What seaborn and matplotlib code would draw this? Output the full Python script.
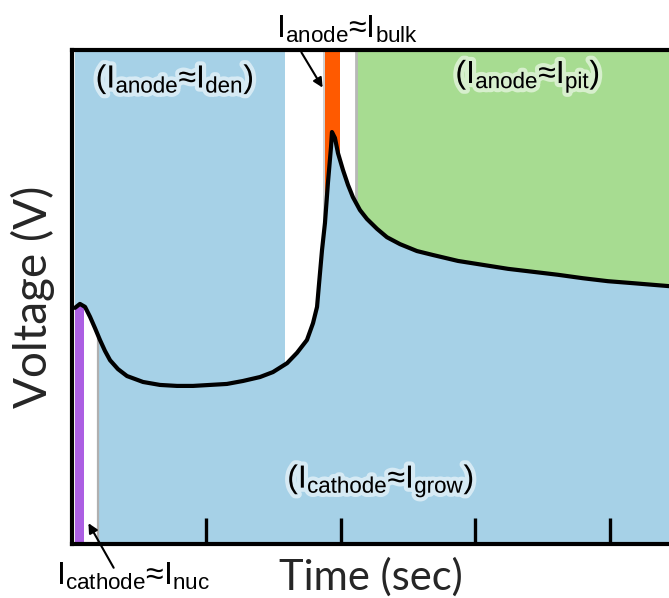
import numpy as np
import matplotlib
matplotlib.use("Agg")
import matplotlib.pyplot as plt
import matplotlib.patheffects as pe
import seaborn as sns

# curve (time in arbitrary sec units, voltage arbitrary)
time = [0.022, 0.059, 0.097, 0.134, 0.171, 0.208, 0.245, 0.283, 0.342, 0.409,
        0.528, 0.654, 0.781, 0.900, 1.026, 1.152, 1.271, 1.398, 1.494, 1.599,
        1.673, 1.747, 1.792, 1.822, 1.836, 1.859, 1.881, 1.903, 1.926, 1.933,
        1.955, 1.978, 2.015, 2.052, 2.089, 2.141, 2.193, 2.268, 2.342, 2.439,
        2.565, 2.684, 2.870, 3.056, 3.242, 3.428, 3.613, 3.799, 3.985, 4.171,
        4.439]
volt = [4.78, 4.86, 4.80, 4.60, 4.37, 4.13, 3.91, 3.72, 3.54, 3.40,
        3.28, 3.22, 3.20, 3.20, 3.22, 3.24, 3.30, 3.38, 3.48, 3.66,
        3.87, 4.13, 4.47, 4.80, 5.24, 5.95, 6.50, 7.31, 8.04, 8.34,
        8.22, 7.91, 7.57, 7.27, 7.02, 6.76, 6.58, 6.38, 6.21, 6.07,
        5.93, 5.85, 5.73, 5.65, 5.57, 5.51, 5.45, 5.38, 5.32, 5.28,
        5.22]

# bands (start, end, colour) above and below the curve
above_bands = [(0.0, 1.584, "#a6d1e7"), (1.584, 1.881, "white"),
               (1.881, 1.993, "#ff5a00"), (1.993, 2.12, "white"),
               (2.12, 4.5, "#a7dc91")]
below_bands = [(0.0, 0.022, "white"), (0.022, 0.09, "#ac5fe3"),
               (0.09, 0.19, "white"), (0.19, 4.5, "#a6d1e7")]
shadow_below = 0.19
shadow_above = 2.115

xticks = [1, 2, 3, 4]

sns.set_theme(style="white")
plt.rcParams["font.family"] = ["Liberation Sans", "DejaVu Sans"]
plt.rcParams["mathtext.fontset"] = "custom"
plt.rcParams["mathtext.rm"] = "Liberation Sans"
plt.rcParams["mathtext.it"] = "Liberation Sans"
plt.rcParams["mathtext.default"] = "regular"

fig = plt.figure(figsize=(6.69, 5.98), dpi=100)
ax = fig.add_axes([72 / 669, 1 - 544 / 598, 1 - 72 / 669, (544 - 50) / 598])
ax.set_xlim(0, 4.439)
ax.set_ylim(0, 10)
ax.set_axisbelow(False)

# clip polygons above / below the curve
poly_below = ax.fill_between(time, volt, 0, color="none", lw=0)
poly_above = ax.fill_between(time, volt, 10, color="none", lw=0)
clip_b = poly_below.get_paths()[0]
clip_a = poly_above.get_paths()[0]

for x0, x1, c in above_bands:
    sp = ax.axvspan(x0, x1, color=c, lw=0, zorder=1)
    sp.set_clip_path(clip_a, ax.transData)
for x0, x1, c in below_bands:
    sp = ax.axvspan(x0, x1, color=c, lw=0, zorder=1)
    sp.set_clip_path(clip_b, ax.transData)

ln = ax.axvline(shadow_below, color="#b0b0b0", lw=1.6, zorder=2)
ln.set_clip_path(clip_b, ax.transData)
ln = ax.axvline(shadow_above, color="#b8b8b8", lw=2.0, zorder=2)
ln.set_clip_path(clip_a, ax.transData)
ln = ax.axvline(1.877, color="#c8c8c8", lw=1.2, zorder=2)
ln.set_clip_path(clip_a, ax.transData)

sns.lineplot(x=time, y=volt, ax=ax, color="black", lw=3.0, zorder=5,
             sort=False, estimator=None)
ax.lines[-1].set_solid_joinstyle("round")
ax.lines[-1].set_solid_capstyle("round")

# spines / ticks
for s in ["top", "left", "bottom"]:
    ax.spines[s].set_linewidth(3.0)
    ax.spines[s].set_color("black")
    ax.spines[s].set_zorder(6)
ax.spines["right"].set_visible(False)
ax.set_xticks(xticks)
ax.set_xticklabels([])
ax.set_yticks([])
ax.xaxis.set_zorder(6)
ax.tick_params(axis="x", direction="in", length=19, width=2.4, color="black",
               bottom=True)

ax.set_xlabel("Time (sec)", fontsize=30, family=["Lato", "DejaVu Sans"], labelpad=6)
ax.set_ylabel("Voltage (V)", fontsize=33, family=["Lato", "DejaVu Sans"], labelpad=12)

glow = [pe.withStroke(linewidth=6, foreground="white", alpha=0.55)]
kw = dict(fontsize=23, ha="center", va="center", color="black", zorder=8,
          annotation_clip=False)

ax.annotate(r"($I_{anode}$≈$I_{den}$)", xy=(0.766, 9.40), path_effects=glow, **kw)
ax.annotate(r"($I_{anode}$≈$I_{pit}$)", xy=(3.39, 9.46), path_effects=glow, **kw)
ax.annotate(r"($I_{cathode}$≈$I_{grow}$)", xy=(2.297, 1.27), path_effects=glow, **kw)
ax.annotate(r"$I_{anode}$≈$I_{bulk}$", xy=(2.045, 10.42), **kw)
ax.annotate(r"$I_{cathode}$≈$I_{nuc}$", xy=(0.454, -0.66), **kw)

ax.annotate("", xy=(1.874, 9.19), xytext=(1.695, 10.0), annotation_clip=False,
            arrowprops=dict(arrowstyle="-|>", color="black", lw=1.5,
                            mutation_scale=14), zorder=9)
ax.annotate("", xy=(0.112, 0.47), xytext=(0.32, -0.53), annotation_clip=False,
            arrowprops=dict(arrowstyle="-|>", color="black", lw=1.5,
                            mutation_scale=14), zorder=9)

fig.savefig("out.png", dpi=100)
